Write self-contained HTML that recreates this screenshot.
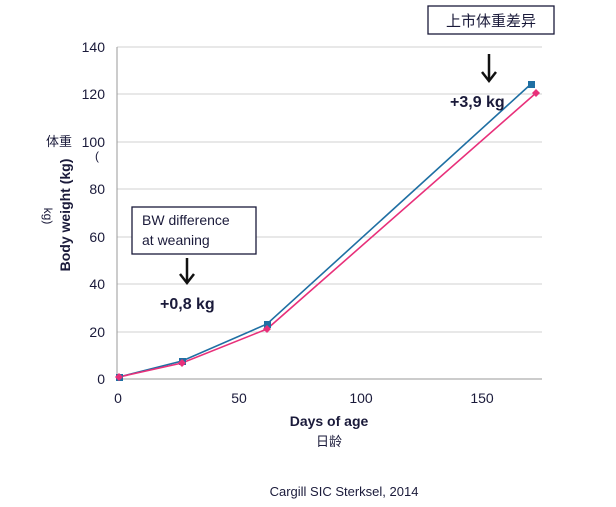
<!DOCTYPE html>
<html><head><meta charset="utf-8"><style>body{margin:0;background:#fff}svg{display:block}</style></head>
<body>
<svg width="616" height="507" xmlns="http://www.w3.org/2000/svg" font-family="Liberation Sans, Noto Sans CJK SC, sans-serif">
<g stroke="#d0d0d0" stroke-width="1">
<line x1="117" y1="47" x2="542" y2="47"/>
<line x1="117" y1="94" x2="542" y2="94"/>
<line x1="117" y1="142" x2="542" y2="142"/>
<line x1="117" y1="189" x2="542" y2="189"/>
<line x1="117" y1="237" x2="542" y2="237"/>
<line x1="117" y1="284" x2="542" y2="284"/>
<line x1="117" y1="332" x2="542" y2="332"/>
</g>
<line x1="117" y1="47" x2="117" y2="379" stroke="#999"/>
<line x1="117" y1="379" x2="542" y2="379" stroke="#999"/>
<g font-size="14" fill="#1a1a3a" text-anchor="end">
<text x="105" y="52">140</text><text x="105" y="99">120</text><text x="105" y="147">100</text>
<text x="105" y="194">80</text><text x="105" y="242">60</text><text x="105" y="289">40</text>
<text x="105" y="337">20</text><text x="105" y="384">0</text>
</g>
<g font-size="14" fill="#1a1a3a" text-anchor="middle">
<text x="118" y="403">0</text><text x="239" y="403">50</text><text x="361" y="403">100</text><text x="482" y="403">150</text>
</g>
<text x="329" y="426" font-size="14" font-weight="bold" text-anchor="middle" fill="#1a1a3a">Days of age</text>
<text x="329" y="446" font-size="13" text-anchor="middle" fill="#1a1a3a">日龄</text>
<text transform="translate(70,215) rotate(-90)" font-size="14" font-weight="bold" text-anchor="middle" fill="#1a1a3a">Body weight (kg)</text>
<text x="59" y="146" font-size="13" text-anchor="middle" fill="#1a1a3a">体重</text>
<text x="95" y="160" font-size="12" fill="#1a1a3a">(</text>
<text transform="translate(44,216) rotate(90)" font-size="12" text-anchor="middle" fill="#1a1a3a">kg)</text>
<polyline points="119,377 182,361 267,324 531,84" fill="none" stroke="#1f6fa3" stroke-width="1.6"/>
<polyline points="119,377 182,363 267,329 536,93" fill="none" stroke="#e8307a" stroke-width="1.6"/>
<g fill="#1f6fa3"><rect x="116" y="374" width="7" height="7"/><rect x="179" y="358" width="7" height="7"/><rect x="264" y="321" width="7" height="7"/><rect x="528" y="81" width="7" height="7"/></g>
<g fill="#e8307a"><path d="M119 373l4 4-4 4-4-4z"/><path d="M182 359l4 4-4 4-4-4z"/><path d="M267 325l4 4-4 4-4-4z"/><path d="M536 89l4 4-4 4-4-4z"/></g>
<rect x="132" y="207" width="124" height="47" fill="#fff" stroke="#1a1a3a" stroke-width="1.3"/>
<text x="142" y="225" font-size="14" fill="#1a1a3a">BW difference</text>
<text x="142" y="245" font-size="14" fill="#1a1a3a">at weaning</text>
<line x1="187" y1="258" x2="187" y2="281" stroke="#111" stroke-width="2.5"/>
<path d="M180 274l7 9 7-9" fill="none" stroke="#111" stroke-width="2.5"/>
<text x="160" y="309" font-size="16" font-weight="bold" fill="#1a1a3a">+0,8 kg</text>
<rect x="428" y="6" width="126" height="28" fill="#fff" stroke="#1a1a3a" stroke-width="1.3"/>
<text x="491" y="26" font-size="15" text-anchor="middle" fill="#1a1a3a">上市体重差异</text>
<line x1="489" y1="54" x2="489" y2="79" stroke="#111" stroke-width="2.5"/>
<path d="M482 72l7 9 7-9" fill="none" stroke="#111" stroke-width="2.5"/>
<text x="450" y="107" font-size="16" font-weight="bold" fill="#1a1a3a">+3,9 kg</text>
<text x="344" y="496" font-size="13" text-anchor="middle" fill="#1a1a3a">Cargill SIC Sterksel, 2014</text>
</svg>
</body></html>
